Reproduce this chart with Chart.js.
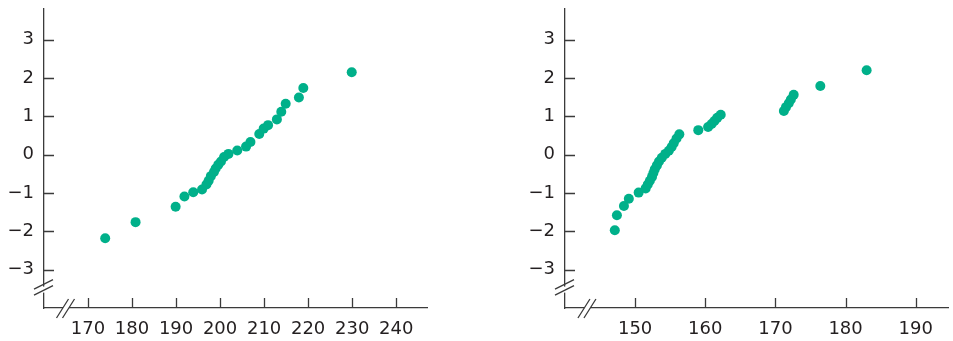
<!DOCTYPE html>
<html>
<head>
<meta charset="utf-8">
<script src="https://cdn.jsdelivr.net/npm/chart.js@4.4.1/dist/chart.umd.min.js"></script>
<style>
  html, body { margin: 0; padding: 0; background: #fff; }
  #wrap { position: relative; width: 953px; height: 341px; overflow: hidden; }
  .box { position: absolute; top: 0; height: 341px; }
</style>
</head>
<body>
<div id="wrap">
  <div class="box" style="left:0;width:440px"><canvas id="leftChart" width="440" height="341"></canvas></div>
  <div class="box" style="left:521px;width:432px"><canvas id="rightChart" width="432" height="341"></canvas></div>
</div>
<script>
// normal probability plot data
const leftX = [173.9, 180.8, 189.9, 191.9, 193.9, 195.9, 196.9, 197.4, 197.9, 198.6, 199.0, 199.6, 200.2, 200.9, 201.9,
  203.9, 205.9, 206.9, 208.9, 209.9, 210.9, 212.9, 213.9, 214.9, 217.9, 218.9, 229.9];
const leftZ = [-2.18, -1.76, -1.36, -1.09, -0.98, -0.91, -0.78, -0.68, -0.56, -0.45, -0.36, -0.26, -0.18, -0.06, 0.02,
  0.11, 0.21, 0.33, 0.54, 0.68, 0.77, 0.92, 1.12, 1.33, 1.49, 1.74, 2.15];

const rightX = [147.1, 147.4, 148.4, 149.1, 150.5, 151.5, 151.8, 152.1, 152.4, 152.6, 152.8, 153.1, 153.4, 153.8, 154.3,
  154.8, 155.2, 155.5, 155.9, 156.3, 159.0, 160.4, 160.9, 161.3, 161.7, 162.2, 171.2, 171.5, 171.9, 172.2, 172.6,
  176.4, 183.0];
const rightZ = [-1.97, -1.58, -1.34, -1.15, -0.99, -0.88, -0.78, -0.68, -0.58, -0.48, -0.38, -0.28, -0.18, -0.08, 0.02,
  0.10, 0.20, 0.30, 0.42, 0.53, 0.64, 0.72, 0.80, 0.88, 0.96, 1.04, 1.14, 1.24, 1.34, 1.44, 1.56,
  1.79, 2.20];

const zTicks = [-3, -2, -1, 0, 1, 2, 3];
const leftXTicks = [170, 180, 190, 200, 210, 220, 230, 240];
const rightXTicks = [150, 160, 170, 180, 190];

const dotColor = "#00b08a";
const axisColor = "#3b3b3b";
const textColor = "#231f20";
const fontFamily = "'DejaVu Sans', 'Noto Sans', sans-serif";

function fmtTick(v) {
  return v < 0 ? "\u2212" + Math.abs(v) : String(v);
}

// inward tick marks and the "//" axis breaks
const axisExtras = {
  id: "axisExtras",
  afterDraw(chart, args, opts) {
    const { ctx, chartArea: a, scales: { x, y } } = chart;
    ctx.save();
    ctx.strokeStyle = axisColor;
    ctx.lineWidth = 1.3;
    ctx.beginPath();
    x.ticks.forEach(t => {
      const px = Math.round(x.getPixelForValue(t.value)) + 0.5;
      ctx.moveTo(px, a.bottom);
      ctx.lineTo(px, a.bottom - 10);
    });
    y.ticks.forEach(t => {
      const py = Math.round(y.getPixelForValue(t.value)) + 0.5;
      ctx.moveTo(a.left, py);
      ctx.lineTo(a.left + 10, py);
    });
    ctx.stroke();

    // y break
    const by = y.getPixelForValue(opts.yBreak);
    ctx.fillStyle = "#fff";
    ctx.fillRect(a.left - 2, by - 3, 4, 6);
    ctx.beginPath();
    ctx.moveTo(a.left - 10, by - 0.5);
    ctx.lineTo(a.left + 9, by - 10);
    ctx.moveTo(a.left - 10, by + 5.5);
    ctx.lineTo(a.left + 9, by - 4);
    ctx.stroke();

    // x break
    const bx = x.getPixelForValue(opts.xBreak);
    ctx.fillStyle = "#fff";
    ctx.fillRect(bx - 3, a.bottom - 2, 6, 4);
    ctx.beginPath();
    ctx.moveTo(bx - 9.5, a.bottom + 10);
    ctx.lineTo(bx + 2.5, a.bottom - 9);
    ctx.moveTo(bx - 3.5, a.bottom + 10);
    ctx.lineTo(bx + 8.5, a.bottom - 9);
    ctx.stroke();
    ctx.restore();
  }
};

function makePlot(canvasId, xs, zs, xTicks, xMin, xMax, xBreak, padRight) {
  const points = xs.map((v, i) => ({ x: v, y: zs[i] }));
  new Chart(document.getElementById(canvasId), {
    type: "scatter",
    data: {
      datasets: [{
        data: points,
        pointRadius: 5,
        pointBackgroundColor: dotColor,
        pointBorderWidth: 0,
        pointHoverRadius: 5
      }]
    },
    options: {
      responsive: false,
      animation: false,
      events: [],
      layout: { padding: { top: 9, right: padRight, left: 0, bottom: 0 } },
      plugins: {
        legend: { display: false },
        tooltip: { enabled: false },
        axisExtras: { yBreak: -3.52, xBreak: xBreak }
      },
      scales: {
        x: {
          type: "linear",
          min: xMin,
          max: xMax,
          afterBuildTicks: s => { s.ticks = xTicks.map(v => ({ value: v })); },
          afterFit: s => { s.height = 33; s.paddingLeft = 0; s.paddingRight = 0; },
          grid: { display: false, drawTicks: false },
          border: { display: true, color: axisColor, width: 1.3 },
          ticks: {
            padding: 11,
            color: textColor,
            font: { family: fontFamily, size: 18 },
            maxRotation: 0,
            autoSkip: false,
            callback: v => fmtTick(v)
          }
        },
        y: {
          type: "linear",
          min: -4,
          max: 3.8,
          afterBuildTicks: s => { s.ticks = zTicks.map(v => ({ value: v })); },
          afterFit: s => { s.width = 44; s.paddingTop = 0; s.paddingBottom = 0; },
          grid: { display: false, drawTicks: false },
          border: { display: true, color: axisColor, width: 1.3 },
          ticks: {
            padding: 10,
            color: textColor,
            font: { family: fontFamily, size: 18 },
            autoSkip: false,
            callback: v => fmtTick(v)
          }
        }
      }
    },
    plugins: [axisExtras]
  });
}

makePlot("leftChart", leftX, leftZ, leftXTicks, 160, 247, 165.0, 13);
makePlot("rightChart", rightX, rightZ, rightXTicks, 140, 194.6, 143.2, 4);
</script>
</body>
</html>
